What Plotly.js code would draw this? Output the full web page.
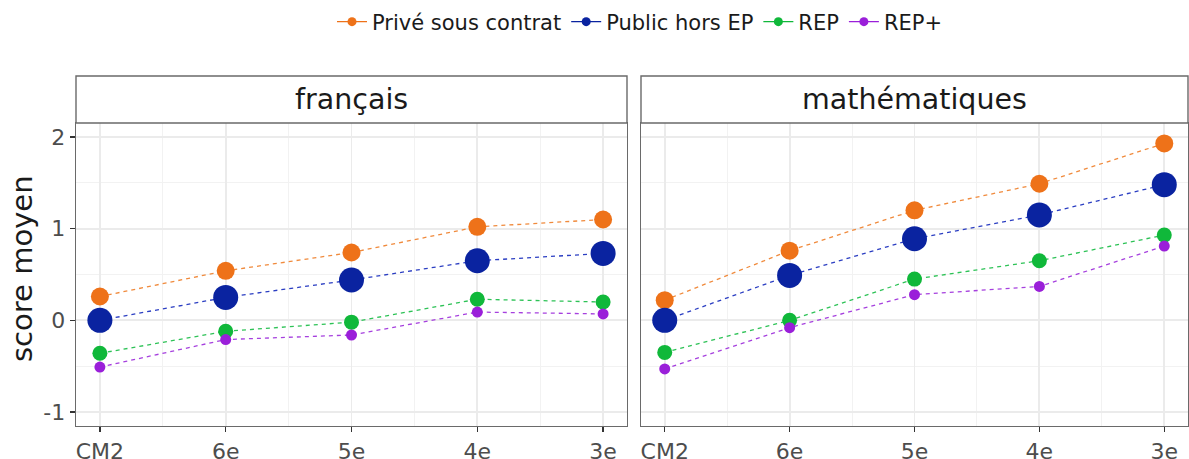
<!DOCTYPE html>
<html><head><meta charset="utf-8">
<script src="https://cdn.plot.ly/plotly-3.0.1.min.js"></script>
<style>html,body{margin:0;padding:0;background:#fff}#chart{width:1189px;height:459px}</style>
</head><body><div id="chart"></div>
<script>
const categories = ['CM2', '6e', '5e', '4e', '3e'];
const groups = ['Privé sous contrat', 'Public hors EP', 'REP', 'REP+'];
const subjects = ['français', 'mathématiques'];

const francais_prive  = [0.26, 0.54, 0.74, 1.02, 1.10];
const francais_public = [0.00, 0.25, 0.44, 0.65, 0.73];
const francais_rep    = [-0.36, -0.12, -0.02, 0.23, 0.20];
const francais_repp   = [-0.51, -0.21, -0.16, 0.09, 0.07];

const maths_prive  = [0.22, 0.76, 1.20, 1.49, 1.93];
const maths_public = [0.00, 0.49, 0.89, 1.15, 1.48];
const maths_rep    = [-0.35, 0.00, 0.45, 0.65, 0.93];
const maths_repp   = [-0.53, -0.08, 0.28, 0.37, 0.81];

const yTickVals = [-1, 0, 1, 2];
const yTickText = ['-1', '0', '1', '2'];

const colors = ['#EE7219', '#0A23A0', '#10B83A', '#9A1FD9'];
const lineColors = ['#F08A3C', '#2B3EC2', '#2DC256', '#A640DE'];
const sizes = [18, 25, 15, 11];

const W = 1189, H = 459;
const idx = categories.map((c, i) => i);
const seriesBySubject = [
  [francais_prive, francais_public, francais_rep, francais_repp],
  [maths_prive, maths_public, maths_rep, maths_repp]
];

const traces = [];
seriesBySubject.forEach((ser, s) => {
  ser.forEach((vals, g) => {
    traces.push({
      type: 'scatter', mode: 'lines+markers',
      x: idx, y: vals,
      xaxis: s === 0 ? 'x' : 'x2', yaxis: s === 0 ? 'y' : 'y2',
      name: groups[g], showlegend: false, hoverinfo: 'skip',
      line: {color: lineColors[g], width: 1.3, dash: '4px,4px'},
      marker: {color: colors[g], size: sizes[g], line: {width: 0}}
    });
  });
});
groups.forEach((g, i) => {
  traces.push({
    type: 'scatter', mode: 'lines+markers', x: [null], y: [null],
    name: g, showlegend: true,
    line: {color: colors[i], width: 1.3},
    marker: {color: colors[i], size: 9}
  });
});

const p1 = [76, 627], p2 = [641, 1188];
const py = [123, 426];
const strip = [76, 123];
const fx = v => v / W, fy = v => 1 - v / H;

const xCommon = {
  range: [-0.19, 4.19], tickmode: 'array', tickvals: idx, ticktext: categories,
  showgrid: true, gridcolor: '#EBEBEB', gridwidth: 1.8,
  minor: {tickmode: 'array', tickvals: [0.5, 1.5, 2.5, 3.5], showgrid: true, gridcolor: '#F2F2F2', gridwidth: 1, ticks: ''},
  ticks: 'outside', ticklen: 5, tickcolor: '#333', tickwidth: 1.2,
  tickfont: {family: 'DejaVu Sans', size: 22, color: '#4D4D4D'},
  showline: true, mirror: true, linecolor: '#6A6A6A', linewidth: 1.4,
  zeroline: false, fixedrange: true
};
const yCommon = {
  range: [-1.153, 2.153], tickmode: 'array', tickvals: yTickVals, ticktext: yTickText,
  showgrid: true, gridcolor: '#EBEBEB', gridwidth: 1.8,
  minor: {tickmode: 'array', tickvals: [-0.5, 0.5, 1.5], showgrid: true, gridcolor: '#F2F2F2', gridwidth: 1, ticks: ''},
  ticks: 'outside', ticklen: 5, tickcolor: '#333', tickwidth: 1.2,
  tickfont: {family: 'DejaVu Sans', size: 22, color: '#4D4D4D'},
  showline: true, mirror: true, linecolor: '#6A6A6A', linewidth: 1.4,
  zeroline: false, fixedrange: true
};

const layout = {
  width: W, height: H,
  margin: {l: 0, r: 0, t: 0, b: 0},
  paper_bgcolor: '#fff', plot_bgcolor: '#fff',
  font: {family: 'DejaVu Sans', color: '#1A1A1A'},
  showlegend: true,
  legend: {orientation: 'h', x: 640 / W, xanchor: 'center', y: fy(22), yanchor: 'middle',
           font: {family: 'DejaVu Sans', size: 21, color: '#1A1A1A'}, itemclick: false},
  xaxis: Object.assign({}, xCommon, {domain: [fx(p1[0]), fx(p1[1])], anchor: 'y'}),
  yaxis: Object.assign({}, yCommon, {domain: [fy(py[1]), fy(py[0])], anchor: 'x'}),
  xaxis2: Object.assign({}, xCommon, {domain: [fx(p2[0]), fx(p2[1])], anchor: 'y2'}),
  yaxis2: Object.assign({}, yCommon, {domain: [fy(py[1]), fy(py[0])], anchor: 'x2', matches: 'y', showticklabels: false, ticks: ''}),
  shapes: [p1, p2].map(p => ({
    type: 'rect', xref: 'paper', yref: 'paper',
    x0: fx(p[0]), x1: fx(p[1]), y0: fy(strip[1]), y1: fy(strip[0]),
    fillcolor: '#FFFFFF', line: {color: '#6A6A6A', width: 1.4}
  })),
  annotations: [
    ...[p1, p2].map((p, i) => ({
      xref: 'paper', yref: 'paper', x: fx((p[0] + p[1]) / 2), y: fy((strip[0] + strip[1]) / 2),
      xanchor: 'center', yanchor: 'middle', showarrow: false, text: subjects[i],
      font: {family: 'DejaVu Sans', size: 28.5, color: '#1A1A1A'}
    })),
    {xref: 'paper', yref: 'paper', x: fx(22), y: fy(269), xanchor: 'center', yanchor: 'middle',
     showarrow: false, text: 'score moyen', textangle: -90,
     font: {family: 'DejaVu Sans', size: 29, color: '#1A1A1A'}}
  ]
};

Plotly.newPlot('chart', traces, layout, {displayModeBar: false, staticPlot: true});
</script></body></html>
